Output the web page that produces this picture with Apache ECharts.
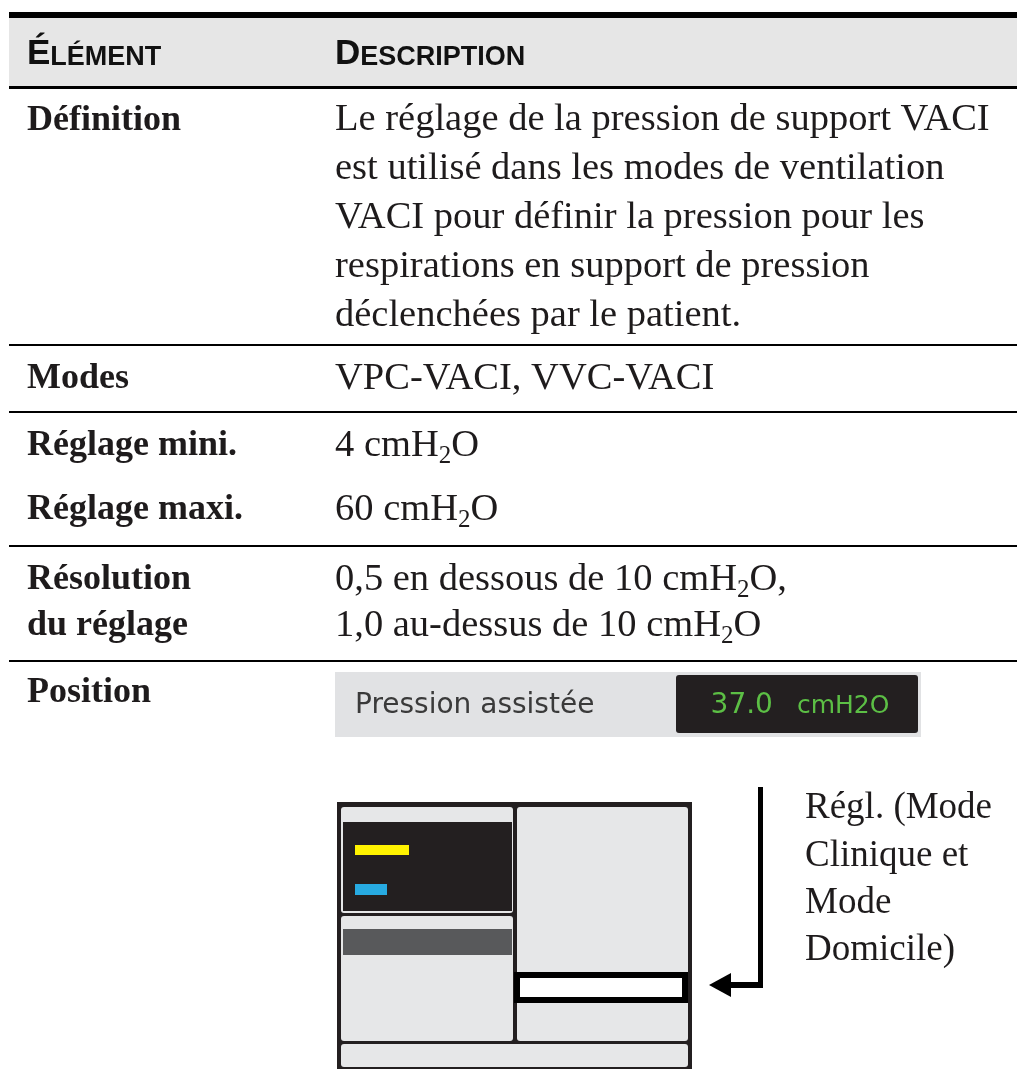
<!DOCTYPE html>
<html><head><meta charset="utf-8">
<script src="https://cdn.jsdelivr.net/npm/echarts@6/dist/echarts.min.js"></script>
<style>html,body{margin:0;padding:0;background:#fff}#c{width:1017px;height:1079px}</style>
</head><body><div id="c"></div>
<script>
// ---- table content ----
const headerLabels = ['Élément', 'Description'];
const elementLabels = [['Définition'], ['Modes'], ['Réglage mini.'], ['Réglage maxi.'], ['Résolution', 'du réglage'], ['Position']];
const definitionLines = ['Le réglage de la pression de support VACI', 'est utilisé dans les modes de ventilation', 'VACI pour définir la pression pour les', 'respirations en support de pression', 'déclenchées par le patient.'];
const modesLines = ['VPC-VACI, VVC-VACI'];
const minLines = ['4 cmH_2O'];
const maxLines = ['60 cmH_2O'];
const resolutionLines = ['0,5 en dessous de 10 cmH_2O,', '1,0 au-dessus de 10 cmH_2O'];
const settingName = 'Pression assistée';
const settingValue = '37.0';
const settingUnit = 'cmH2O';
const calloutLines = ['Régl. (Mode', 'Clinique et', 'Mode', 'Domicile)'];

// ---- layout ----
const INK = '#1e1b1c';
const SERIF = '"Liberation Serif", "Times New Roman", serif';
const SANS = '"Liberation Sans", Arial, sans-serif';
const DISP = '"DejaVu Sans", sans-serif';
const leftX = 27, rightX = 335;
const BODY = 38.5, LABEL = 36;

function mid(baseline, size) { return baseline - 0.19 * size; }

function richLine(x, baseline, line, opts) {
  const size = opts.size, weight = opts.weight || 'normal';
  const parts = line.split(/_(\d)/);
  let s = '';
  parts.forEach((p, i) => { if (p === '') return; s += (i % 2 ? '{s|' : '{n|') + p + '}'; });
  return {
    type: 'text', x: x, y: mid(baseline, size), silent: true,
    style: {
      text: s, align: 'left', verticalAlign: 'middle',
      rich: {
        n: { fontSize: size, fontFamily: opts.family || SERIF, fontWeight: weight, fill: opts.color || INK },
        s: { fontSize: Math.round(size * 0.66), fontFamily: opts.family || SERIF, fontWeight: weight, fill: opts.color || INK, padding: [22, 0, 0, 0] }
      }
    }
  };
}

function smallCaps(x, baseline, word) {
  const first = word.charAt(0).toUpperCase();
  const rest = word.slice(1).toUpperCase();
  return {
    type: 'text', x: x, y: baseline - 9, silent: true,
    style: {
      text: '{b|' + first + '}{c|' + rest + '}', align: 'left', verticalAlign: 'middle',
      rich: {
        b: { fontSize: 35, fontFamily: SANS, fontWeight: 'bold', fill: '#111', verticalAlign: 'bottom' },
        c: { fontSize: 27, fontFamily: SANS, fontWeight: 'bold', fill: '#111', verticalAlign: 'bottom' }
      }
    }
  };
}

function rect(x, y, w, h, fill, r) {
  return { type: 'rect', silent: true, shape: { x: x, y: y, width: w, height: h, r: r || 0 }, style: { fill: fill } };
}

const els = [];
// header band and rules
els.push(rect(9, 18, 1008, 68, '#e6e6e6'));
els.push(rect(9, 12, 1008, 6, '#000'));
els.push(rect(9, 86, 1008, 3, '#000'));
[344, 411, 545, 660].forEach(y => els.push(rect(9, y, 1008, 2, '#000')));

els.push(smallCaps(leftX, 63, headerLabels[0]));
els.push(smallCaps(rightX, 63, headerLabels[1]));

// left column labels
const labelBaselines = [[128], [386], [453], [517], [587, 633], [700]];
elementLabels.forEach((lines, i) => {
  lines.forEach((t, j) => els.push(richLine(leftX, labelBaselines[i][j], t, { size: LABEL, weight: 'bold' })));
});

// right column
const defBase = [127, 176, 225, 274, 323];
definitionLines.forEach((t, j) => els.push(richLine(rightX, defBase[j], t, { size: BODY })));
modesLines.forEach((t) => els.push(richLine(rightX, 386, t, { size: BODY })));
minLines.forEach((t) => els.push(richLine(rightX, 453, t, { size: BODY })));
maxLines.forEach((t) => els.push(richLine(rightX, 517, t, { size: BODY })));
const resBase = [587, 633];
resolutionLines.forEach((t, j) => els.push(richLine(rightX, resBase[j], t, { size: BODY })));

// setting display bar
els.push(rect(335, 672, 586, 65, '#e1e2e4'));
els.push({ type: 'text', x: 355, y: 706, silent: true, style: { text: settingName, fontSize: 28, fontFamily: DISP, fill: '#3a3a3a', align: 'left', verticalAlign: 'middle' } });
els.push(rect(676, 675, 242, 58, '#231f20', 3));
els.push({ type: 'text', x: 800, y: 706, silent: true, style: {
  text: '{v|' + settingValue + '}{u|' + settingUnit + '}', align: 'center', verticalAlign: 'middle',
  rich: {
    v: { fontSize: 28, fontFamily: DISP, fill: '#5cbf45' },
    u: { fontSize: 25, fontFamily: DISP, fill: '#5cbf45', padding: [0, 0, 0, 24] }
  } } });

// screen diagram
const PANEL = '#e6e7e8', DARK = '#231f20';
els.push(rect(337, 802, 355, 267, DARK));
els.push(rect(341, 807, 172, 106, PANEL, 3));
els.push(rect(343, 822, 169, 89, DARK));
els.push(rect(355, 845, 54, 10, '#fff200'));
els.push(rect(355, 884, 32, 11, '#27aae1'));
els.push(rect(341, 916, 172, 125, PANEL, 3));
els.push(rect(343, 929, 169, 26, '#58595b'));
els.push(rect(517, 807, 171, 234, PANEL, 3));
els.push(rect(514, 972, 174, 31, '#000'));
els.push(rect(520, 978, 162, 19, '#fff'));
els.push(rect(341, 1044, 347, 23, PANEL, 3));

// callout arrow
els.push(rect(758, 787, 5, 201, '#000'));
els.push(rect(728, 982, 35, 6, '#000'));
els.push({ type: 'polygon', silent: true, shape: { points: [[709, 985], [731, 973], [731, 997]] }, style: { fill: '#000' } });

const callBase = [815, 863, 910, 957];
calloutLines.forEach((t, j) => els.push(richLine(805, callBase[j], t, { size: 37 })));

const chart = echarts.init(document.getElementById('c'), null, { renderer: 'canvas' });
chart.setOption({ backgroundColor: '#fff', animation: false, graphic: { elements: els } });
</script>
</body></html>
